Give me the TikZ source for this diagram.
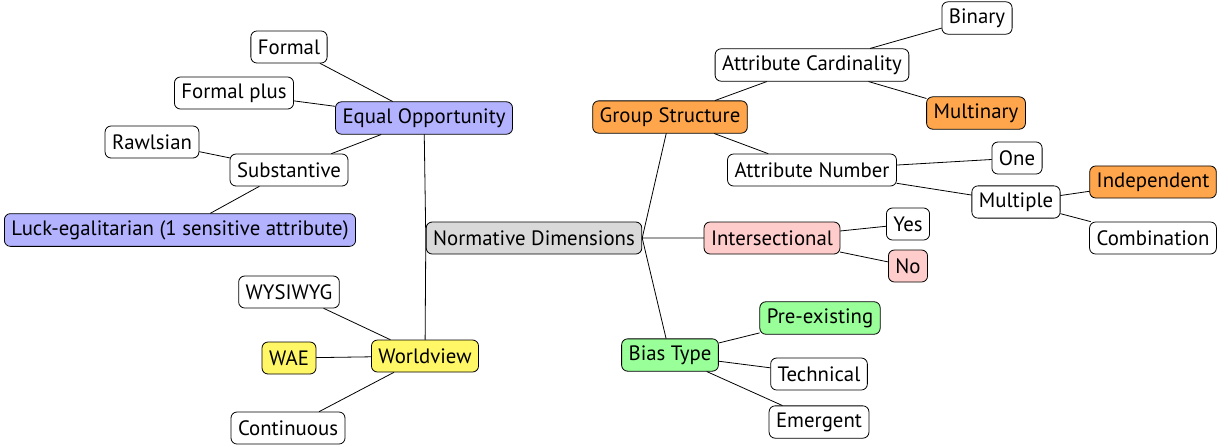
\documentclass[tikz,border=0pt]{standalone}
\usepackage{fontspec}
\setmainfont{PT Sans}
\begin{document}
\begin{tikzpicture}[x=0.5pt,y=-0.5pt, font=\fontsize{10.4}{12}\selectfont, line join=round, line cap=round,
  box/.style={draw,rounded corners=3pt,fill=white,inner xsep=3.5pt,minimum height=16pt},
  blu/.style={box,fill=blue!30}, org/.style={box,fill=orange!70},
  pnk/.style={box,fill=red!20}, grn/.style={box,fill=green!40},
  ylw/.style={box,fill=yellow!60}, gry/.style={box,fill=gray!30}]
\useasboundingbox (0,0) rectangle (1230,446);
% centre and left side
\node[gry] (nd) at (534,238) {Normative Dimensions};
\node[blu] (eo) at (424,118) {Equal Opportunity};
\node[box] (fm) at (289,47) {Formal};
\node[box] (fp) at (234,93) {Formal plus};
\node[box] (sb) at (289,170) {Substantive};
\node[box] (rw) at (152,142) {Rawlsian};
\node[blu] (lk) at (180,230) {Luck-egalitarian (1 sensitive attribute)};
\node[ylw] (wv) at (425,356) {Worldview};
\node[box] (wy) at (289,292) {WYSIWYG};
\node[ylw] (wa) at (289,358) {WAE};
\node[box] (ct) at (288,428) {Continuous};
% right side
\node[org] (gs) at (670,117) {Group Structure};
\node[box] (ac) at (812,65) {Attribute Cardinality};
\node[box] (bi) at (977,18) {Binary};
\node[org] (mn) at (976,113) {Multinary};
\node[box] (an) at (812,170) {Attribute Number};
\node[box] (on) at (1017,158) {One};
\node[box] (mp) at (1016,202) {Multiple};
\node[org] (ip) at (1153,182) {Independent};
\node[box] (cb) at (1153,238) {Combination};
\node[pnk] (is) at (772,238) {Intersectional};
\node[box] (ys) at (908,224) {Yes};
\node[pnk] (no) at (908,266) {No};
\node[grn] (bt) at (670,355) {Bias Type};
\node[grn] (pe) at (820,318) {Pre-existing};
\node[box] (tc) at (819,374) {Technical};
\node[box] (em) at (819,422) {Emergent};
\draw (nd.west)--(eo) (nd.west)--(wv) (nd.east)--(gs) (nd.east)--(is) (nd.east)--(bt);
\foreach \p/\c in {eo/fm,eo/fp,eo/sb,sb/rw,sb/lk,wv/wy,wv/wa,wv/ct,gs/ac,gs/an,ac/bi,ac/mn,
  an/on,an/mp,mp/ip,mp/cb,is/ys,is/no,bt/pe,bt/tc,bt/em}
  \draw (\p)--(\c);
\end{tikzpicture}
\end{document}
